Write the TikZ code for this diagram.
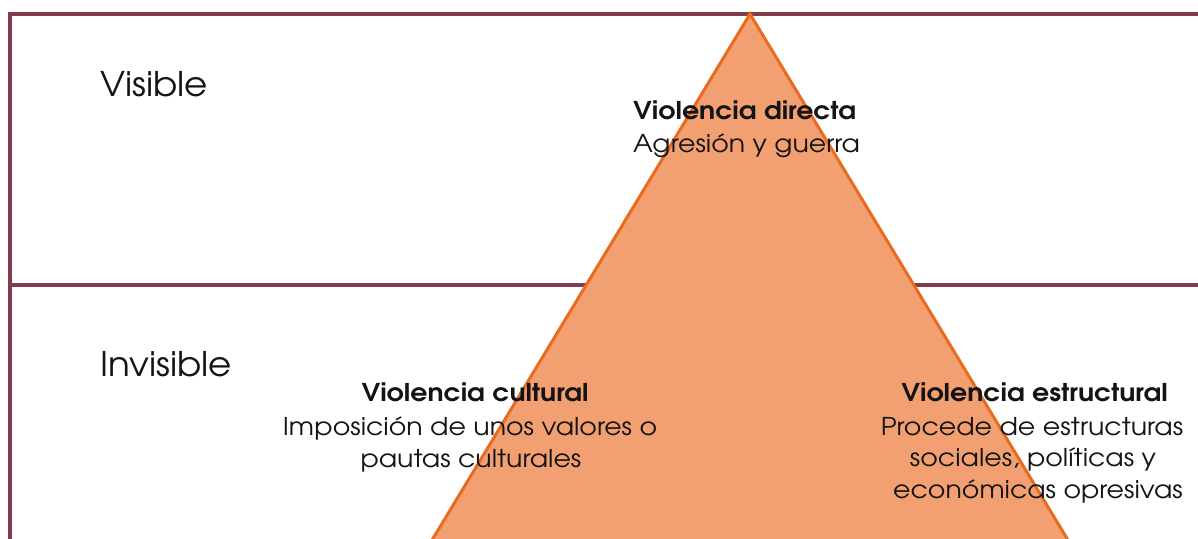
\documentclass[tikz,border=0pt]{standalone}
\usepackage{fontspec}
\setmainfont{texgyreadventor}[Extension=.otf,UprightFont=*-regular,BoldFont=*-bold,ItalicFont=*-italic,BoldItalicFont=*-bolditalic,FakeStretch=1.095]
\newfontfamily\labfont{texgyreadventor}[Extension=.otf,UprightFont=*-regular,BoldFont=*-bold,FakeStretch=1.05]
\definecolor{framecol}{HTML}{833C4B}
\definecolor{trifill}{HTML}{F2A072}
\definecolor{triline}{HTML}{E86B1F}
\definecolor{txt}{HTML}{141414}
\tikzset{
  frameline/.style={draw=framecol,line width=4pt},
  lbl/.style={inner sep=0pt,text=txt,font=\labfont\fontsize{34}{40}\selectfont},
  body/.style={inner sep=0pt,text=txt,font=\fontsize{24.5}{33}\selectfont},
  bhead/.style={inner sep=0pt,text=txt,font=\fontsize{24.5}{33}\selectfont\bfseries}
}
\begin{document}
\begin{tikzpicture}[x=1pt,y=-1pt]
\useasboundingbox (0,0) rectangle (1198,538);
\coordinate (tl) at (10,14);
\coordinate (tr) at (1200,14);
\coordinate (bl) at (10,540);
\coordinate (ml) at (10,284.5);
\coordinate (mr) at (1200,284.5);
\draw[frameline] (tr) -- (tl) -- (bl);
\draw[frameline] (ml) -- (mr);
\coordinate (apex) at (750,14);
\coordinate (baseL) at (426,550);
\coordinate (baseR) at (1074,550);
\fill[trifill] (baseL) -- (apex) -- (baseR) -- cycle;
\draw[triline,line width=3pt,line join=miter] (baseL) -- (apex) -- (baseR);
\node[lbl,anchor=base west] (vis) at (100,96) {Visible};
\node[lbl,anchor=base west] (invis) at (100,376) {Invisible};
\node[bhead,anchor=base west] (d1) at (633,119.5) {Violencia directa};
\node[body,anchor=base west] (d2) at (633,152.5) {Agresión y guerra};
\node[bhead,anchor=base] (c1) at (475,401.7) {Violencia cultural};
\node[body,anchor=base] (c2) at (470,435) {Imposición de unos valores o};
\node[body,anchor=base] (c3) at (471,467.5) {pautas culturales};
\node[bhead,anchor=base] (e1) at (1034.5,401.7) {Violencia estructural};
\node[body,anchor=base] (e2) at (1032,435) {Procede de estructuras};
\node[body,anchor=base] (e3) at (1033,466.7) {sociales, políticas y};
\node[body,anchor=base] (e4) at (1038,498) {económicas opresivas};
\end{tikzpicture}
\end{document}
